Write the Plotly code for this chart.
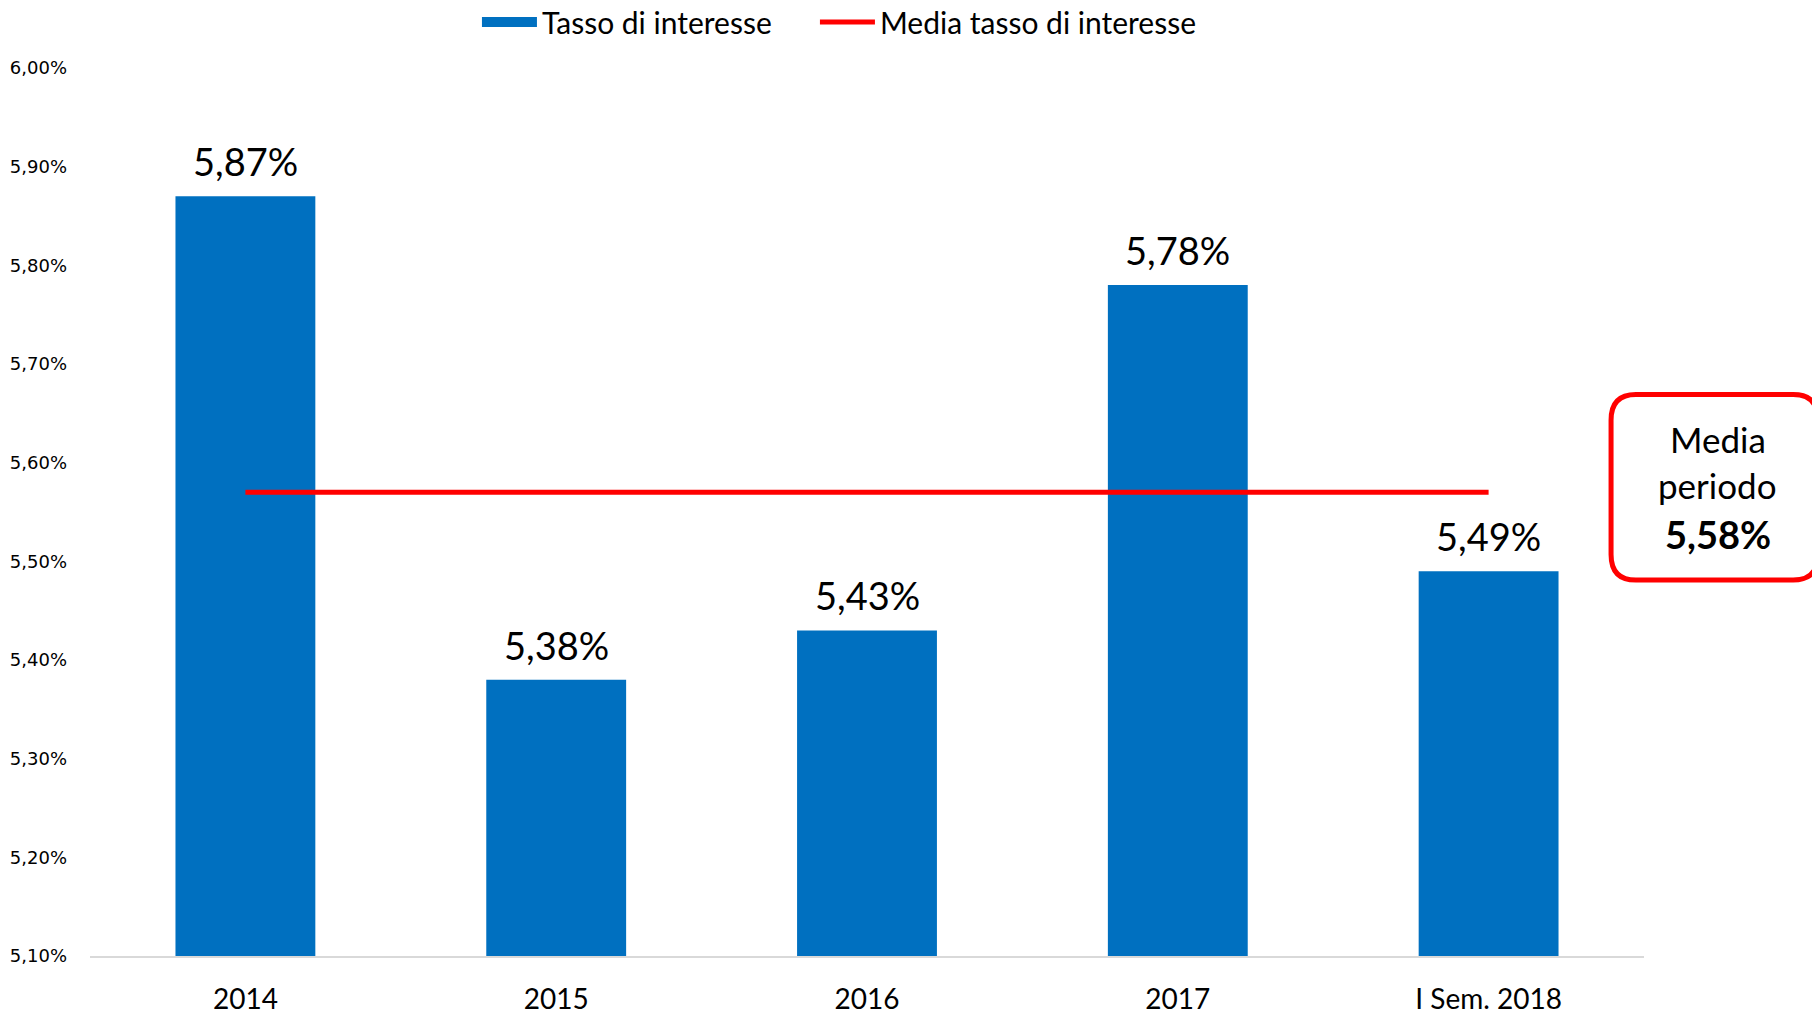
import plotly.graph_objects as go

categories = ["2014", "2015", "2016", "2017", "I Sem. 2018"]
tasso = [5.87, 5.38, 5.43, 5.78, 5.49]
media_line = [5.57, 5.57, 5.57, 5.57, 5.57]
media_label = "5,58%"
y_ticks = [5.1, 5.2, 5.3, 5.4, 5.5, 5.6, 5.7, 5.8, 5.9, 6.0]
y_ticktext = [f"{v:.2f}%".replace(".", ",") for v in y_ticks]

BLUE = "#0070C0"
RED = "#FF0000"
FONT = "Lato"

fig = go.Figure()
fig.add_trace(go.Bar(
    x=categories, y=tasso, name="Tasso di interesse", showlegend=False,
    marker=dict(color=BLUE, line=dict(width=0)),
))
# legend-only entry giving the wide blue swatch of the original legend
fig.add_trace(go.Scatter(
    x=[None], y=[None], name="Tasso di interesse", mode="lines",
    line=dict(color=BLUE, width=18), hoverinfo="skip", legend="legend",
))
fig.add_trace(go.Scatter(
    x=categories, y=media_line, name="Media tasso di interesse",
    mode="lines", line=dict(color=RED, width=5), legend="legend2",
))

# data labels (x given as category index so numeric-looking names are not cast)
for i, v in enumerate(tasso):
    fig.add_annotation(
        x=i, y=v, xref="x", yref="y", text=f"{v:.2f}%".replace(".", ","),
        showarrow=False, xanchor="center", yanchor="bottom", yshift=10,
        font=dict(family=FONT, size=38, color="#000000"),
    )

# rounded box on the right
x0, x1 = 0.9788, 1.112
y0, y1 = 5.481, 5.669
rx, ry = 0.016, 0.026
path = (f"M {x0+rx},{y0} L {x1-rx},{y0} Q {x1},{y0} {x1},{y0+ry} "
        f"L {x1},{y1-ry} Q {x1},{y1} {x1-rx},{y1} L {x0+rx},{y1} "
        f"Q {x0},{y1} {x0},{y1-ry} L {x0},{y0+ry} Q {x0},{y0} {x0+rx},{y0} Z")
fig.add_shape(type="path", path=path, xref="paper", yref="y",
              line=dict(color=RED, width=5), fillcolor="white", layer="above")

bx = 1.0476
box_lines = [("Media", 5.6236, 35), ("periodo", 5.5776, 35), (f"<b>{media_label}</b>", 5.5276, 38)]
for txt, yy, sz in box_lines:
    fig.add_annotation(x=bx, y=yy, xref="paper", yref="y", text=txt,
                       showarrow=False, xanchor="center", yanchor="middle",
                       font=dict(family=FONT, size=sz, color="#000"))

legend_common = dict(orientation="h", xanchor="left", y=0.986, yanchor="middle",
                     yref="container", font=dict(family=FONT, size=30, color="#000"),
                     itemwidth=55, bgcolor="rgba(0,0,0,0)")

# page body has an 8px margin: figure is 1812x1008 placed at (8, 8)
fig.update_layout(
    width=1812, height=1008,
    margin=dict(l=82, r=176, t=60, b=60, autoexpand=False),
    paper_bgcolor="white", plot_bgcolor="white",
    bargap=0.55,
    showlegend=True,
    legend=dict(x=0.2490, **legend_common),
    legend2=dict(x=0.4665, **legend_common),
    xaxis=dict(type="category", range=[-0.5, 4.5], showgrid=False, showline=True,
               linecolor="#D9D9D9", linewidth=2, ticks="", automargin=False,
               tickfont=dict(family=FONT, size=28, color="#000"),
               ticklabelstandoff=17),
    yaxis=dict(range=[5.1, 6.0], tickvals=y_ticks, ticktext=y_ticktext,
               showgrid=False, zeroline=False, showline=False, ticks="", automargin=False,
               tickfont=dict(family="DejaVu Sans", size=18, color="#000"),
               ticklabelstandoff=22),
)

fig.write_html("out.html")
